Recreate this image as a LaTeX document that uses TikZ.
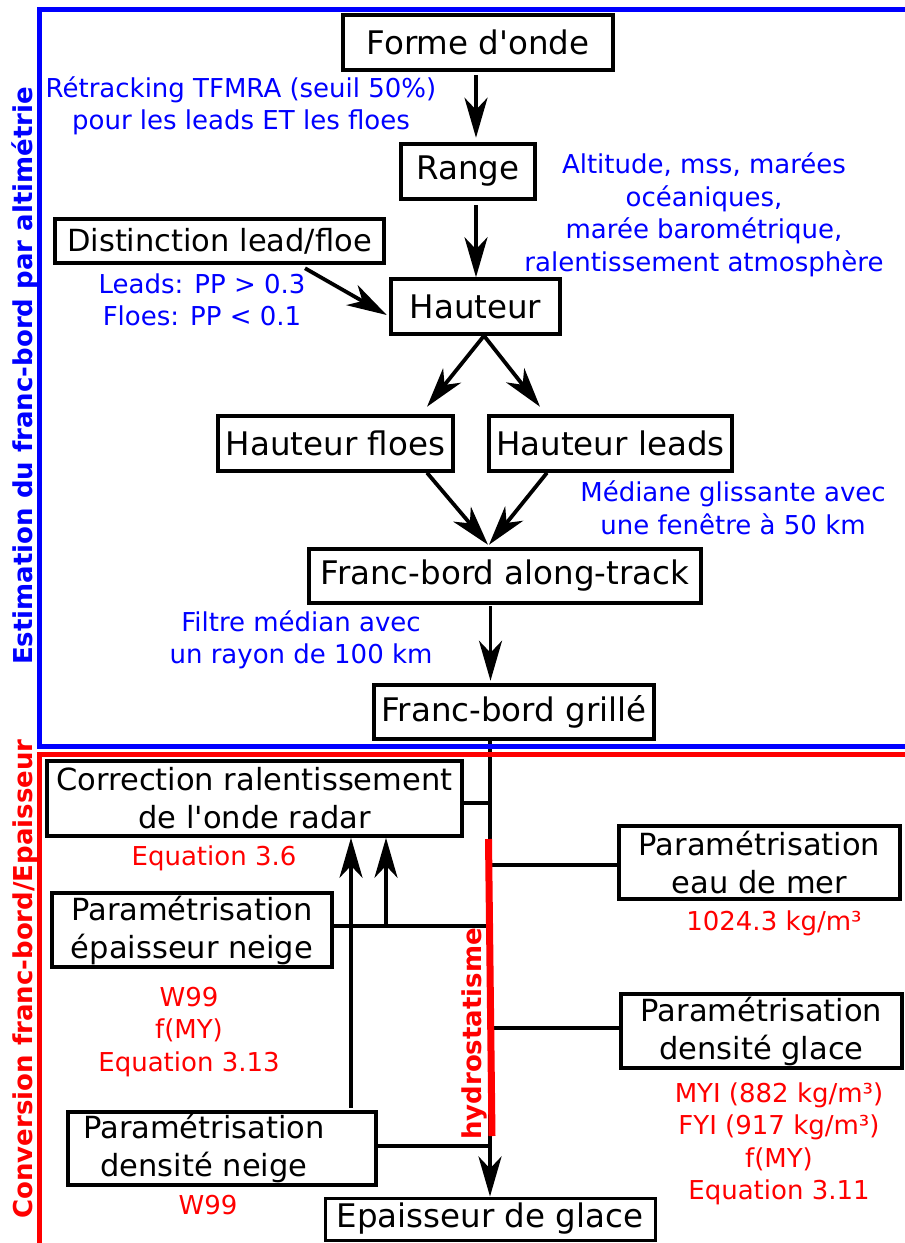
\documentclass[tikz,border=0pt]{standalone}
\usepackage{fontspec}
\setmainfont{DejaVu Sans}
\usetikzlibrary{arrows.meta}

\newcommand\boxfont{\fontsize{32.5pt}{40pt}\selectfont}
\newcommand\smallboxfont{\fontsize{30.5pt}{38pt}\selectfont}
\newcommand\notefont{\fontsize{26pt}{32.5pt}\selectfont}
\newcommand\sidefont{\fontsize{26pt}{30pt}\selectfont\bfseries}
\newcommand\apos{\textquotesingle}

\tikzset{
  box/.style={draw, line width=3.5pt, font=\boxfont, align=center, inner sep=0pt},
  parbox/.style={box, font=\smallboxfont},
  arr/.style={line width=3.8pt, -{Stealth[length=40pt, width=23pt, inset=12pt]}},
  link/.style={line width=3.2pt},
}

\begin{document}
\begin{tikzpicture}[x=1pt, y=-1pt]
    \useasboundingbox (0,0) rectangle (905,1243);

    % altimetrie
    \node[box, minimum width=270, minimum height=55] (forme) at (478,42.5) {Forme d\apos onde};
    \node[box, minimum width=134, minimum height=55] (range) at (468,171.5) {Range};
    \node[parbox, minimum width=329, minimum height=44] (dist) at (219.5,241) {Distinction lead/floe};
    \node[box, minimum width=169, minimum height=55] (haut) at (475.5,306.5) {Hauteur};
    \node[box, minimum width=235, minimum height=55] (hfloes) at (335.5,443.5) {Hauteur floes};
    \node[box, minimum width=243, minimum height=55] (hleads) at (610.5,443.5) {Hauteur leads};
    \node[box, minimum width=392, minimum height=54] (fbat) at (505,576) {Franc-bord along-track};
    \node[box, minimum width=280, minimum height=54] (fbg) at (514,712) {Franc-bord grillé};

    % conversion
    \node[parbox, minimum width=415, minimum height=75] (corr) at (254.5,798.5) {Correction ralentissement\\de l\apos onde radar};
    \node[parbox, minimum width=281, minimum height=73] (eau) at (759.5,862.5) {Paramétrisation\\eau de mer};
    \node[parbox, minimum width=280, minimum height=74] (epn) at (192,930) {Paramétrisation\\épaisseur neige};
    \node[parbox, minimum width=281, minimum height=74] (dglace) at (761.5,1031) {Paramétrisation\\densité glace};
    \node[parbox, minimum width=308, minimum height=73] (dneige) at (222,1148.5) {\hspace*{-36pt}Paramétrisation\\\hspace*{-36pt}densité neige};
    \node[box, line width=3pt, minimum width=330, minimum height=42] (epg) at (490,1219) {Epaisseur de glace};

    \begin{scope}[every node/.style={blue, font=\notefont, align=center}]
    \node (retrack) at (241,106) {Rétracking TFMRA (seuil 50\%)\\pour les leads ET les floes};
    \node (corrs) at (704,215) {Altitude, mss, marées\\océaniques,\\marée barométrique,\\ralentissement atmosphère};
    \node (ppseuil) at (202,300) {Leads: PP > 0.3\\Floes: PP < 0.1};
    \node (mediane) at (733,508) {Médiane glissante avec\\une fenêtre à 50 km};
    \node (filtre) at (301,640) {Filtre médian avec\\un rayon de 100 km};
    \end{scope}

    \begin{scope}[every node/.style={red, font=\notefont, align=center}]
    \node (eqcorr) at (214,858) {Equation 3.6};
    \node (eqneige) at (189,1032) {W99\\f(MY)\\Equation 3.13};
    \node (rhoeau) at (774,923) {1024.3 kg/m³};
    \node (rhoglace) at (779,1144) {MYI (882 kg/m³)\\FYI (917 kg/m³)\\f(MY)\\Equation 3.11};
    \node (rhoneige) at (208,1205) {W99};
    \end{scope}

    \draw[arr] ([xshift=-2pt,yshift=-3.5pt]forme.south) -- ([xshift=8pt,yshift=4.5pt]range.north);
    \draw[arr] ([xshift=8pt,yshift=-4.5pt]range.south) -- ([xshift=0.5pt]haut.north);
    \draw[arr] ([xshift=85.5pt,yshift=-3.5pt]dist.south) -- ([xshift=-2.5pt,yshift=-8.5pt]haut.west);
    \draw[arr] ([xshift=8.5pt]haut.south) -- ([xshift=91.5pt,yshift=7.5pt]hfloes.north);
    \draw[arr] ([xshift=8.5pt]haut.south) -- ([xshift=-70.5pt,yshift=7.5pt]hleads.north);
    \draw[arr] ([xshift=91.5pt]hfloes.south) -- ([xshift=-17pt,yshift=2.5pt]fbat.north);
    \draw[arr] ([xshift=-63.5pt]hleads.south) -- ([xshift=-16pt,yshift=2.5pt]fbat.north);
    \draw[arr] ([xshift=-14.5pt,yshift=-1.5pt]fbat.south) -- ([xshift=-23.5pt,yshift=2.5pt]fbg.north);

    % hydrostatisme
    \coordinate (spine) at (490,0);
    \coordinate (hTop) at (488.5,839);
    \coordinate (hBot) at (492,1136);
    \draw[arr] ([xshift=-24pt]fbg.south) -- (epg.north);
    \draw[link] ([yshift=-4.5pt]corr.east) -- ([yshift=-4.5pt]corr.east -| spine);
    \draw[link] ([yshift=-2.5pt]eau.west) -- ([yshift=-2.5pt]eau.west -| spine);
    \draw[link] ([yshift=4pt]epn.east) -- ([yshift=4pt]epn.east -| spine);
    \draw[link] ([yshift=3pt]dglace.west) -- ([yshift=3pt]dglace.west -| spine);
    \draw[link] ([yshift=2.5pt]dneige.east) -- ([yshift=2.5pt]dneige.east -| spine);
    \draw[arr] ([xshift=129pt,yshift=2.5pt]dneige.north) -- ([xshift=96.5pt]corr.south);
    \draw[arr] ([xshift=194pt,yshift=4pt]epn.center) -- ([xshift=131.5pt]corr.south);
    \draw[red, line width=7pt] (hTop) -- (hBot);
    \node[red, font=\sidefont, rotate=90] (hydro) at (474,1034) {hydrostatisme};

    % cadres
    \draw[blue, line width=5pt] (905,746) -- (39.5,746) -- (39.5,9.5) -- (905,9.5);
    \draw[red, line width=5pt] (905,754) -- (39,754) -- (39,1250);
    \node[blue, font=\sidefont, rotate=90] (estim) at (25,376) {Estimation du franc-bord par altimétrie};
    \node[red, font=\sidefont, rotate=90] (conv) at (25,979) {Conversion franc-bord/Epaisseur};
\end{tikzpicture}
\end{document}
